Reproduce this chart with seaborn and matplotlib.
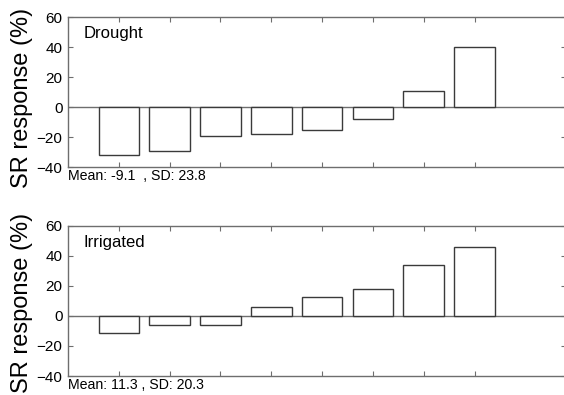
"""SR response per site, drought vs irrigated."""
import matplotlib
matplotlib.use('Agg')
import matplotlib.pyplot as plt
import seaborn as sns

# values (%)
sites = ['1', '2', '3', '4', '5', '6', '7', '8']
drought = [-32, -29, -19.5, -18, -15.5, -8.2, 10.5, 40.2]
irrigated = [-11.5, -6.3, -6.3, 6, 12.5, 18, 34, 45.5]
panel_names = ['Drought', 'Irrigated']
stats_text = ['Mean: -9.1  , SD: 23.8', 'Mean: 11.3 , SD: 20.3']
y_ticks = [-40, -20, 0, 20, 40, 60]

sns.set_style('ticks')
plt.rcParams['font.family'] = ['Liberation Sans', 'DejaVu Sans']
plt.rcParams['text.color'] = 'black'
plt.rcParams['axes.labelcolor'] = 'black'

fig = plt.figure(figsize=(5.64, 3.95), dpi=100)
ax_top = fig.add_axes([0.1206, 0.5772, 0.883, 0.3797])
ax_bot = fig.add_axes([0.1206, 0.0481, 0.883, 0.3807])

spine_col = '#6e6e6e'
label_y = [0.46, 0.485]
for ax, vals, name, stxt, ly in zip([ax_top, ax_bot], [drought, irrigated],
                                    panel_names, stats_text, label_y):
    sns.barplot(x=sites, y=vals, color='white', edgecolor='#3a3a3a',
                linewidth=1.0, width=0.8, saturation=1, ax=ax)
    ax.axhline(0, color=spine_col, lw=1.0, zorder=0.5)
    ax.set_ylim(-40, 60)
    ax.set_xlim(-1, 8.8)
    ax.set_yticks(y_ticks)
    ax.set_xticklabels([])
    ax.set_xlabel('')
    ax.tick_params(direction='in', length=3.5, width=0.8, color=spine_col,
                   labelcolor='black', top=True, right=True, labelsize=11,
                   pad=4)
    for sp in ax.spines.values():
        sp.set_visible(True)
        sp.set_color(spine_col)
        sp.set_linewidth(1.0)
    ax.set_ylabel('SR response (%)', fontsize=17)
    ax.yaxis.set_label_coords(-0.07, ly)
    ax.text(-0.7, 49, name, fontsize=12, va='center', ha='left')
    ax.text(0.0, -0.015, stxt, transform=ax.transAxes, fontsize=10.2,
            va='top', ha='left')

fig.savefig('out.png', dpi=100)
